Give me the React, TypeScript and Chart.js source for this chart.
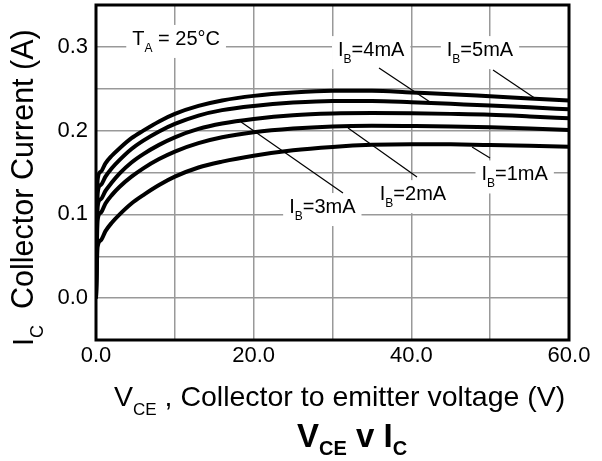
import React, { useEffect, useRef } from 'react';
import { Chart, registerables } from 'chart.js';

Chart.register(...registerables);

const FONT = '"Liberation Sans", Arial, Helvetica, sans-serif';

// Collector-emitter voltage (V)
const vce = [0, 0.2, 0.6, 1.2, 2, 3, 4.5, 6, 8, 10, 13, 16, 20, 25, 30, 35, 40, 45, 50, 55, 60];
// Collector current (A) per base current
const ib1mA = [0, 0.061, 0.069, 0.080, 0.090, 0.100, 0.113, 0.123, 0.135, 0.145, 0.156, 0.163, 0.170, 0.1765, 0.1805, 0.183, 0.1838, 0.1836, 0.1828, 0.1818, 0.1808];
const ib2mA = [0, 0.093, 0.102, 0.113, 0.123, 0.133, 0.145, 0.155, 0.166, 0.175, 0.185, 0.192, 0.198, 0.2025, 0.205, 0.2058, 0.2055, 0.205, 0.204, 0.2025, 0.2007];
const ib3mA = [0, 0.109, 0.118, 0.128, 0.138, 0.149, 0.162, 0.172, 0.183, 0.192, 0.202, 0.2085, 0.214, 0.2185, 0.2205, 0.221, 0.2207, 0.22, 0.219, 0.217, 0.2147];
const ib4mA = [0, 0.125, 0.135, 0.145, 0.155, 0.165, 0.178, 0.188, 0.199, 0.208, 0.218, 0.2245, 0.2295, 0.2335, 0.2355, 0.2355, 0.234, 0.232, 0.23, 0.2278, 0.2254];
const ib5mA = [0, 0.141, 0.151, 0.161, 0.170, 0.179, 0.191, 0.200, 0.211, 0.220, 0.2295, 0.236, 0.2415, 0.2455, 0.2475, 0.2475, 0.2455, 0.2435, 0.241, 0.2385, 0.236];
const seriesNames = ['IB=1mA', 'IB=2mA', 'IB=3mA', 'IB=4mA', 'IB=5mA'];
const seriesValues = [ib1mA, ib2mA, ib3mA, ib4mA, ib5mA];

// Tick labels shown
const xTickLabels = [0, 20, 40, 60];
const yTickLabels = [0, 0.1, 0.2, 0.3];

// Annotations (text parts, anchor in data units)
const labelMain = ['T', 'I', 'I', 'I', 'I', 'I'];
const labelSub = ['A', 'B', 'B', 'B', 'B', 'B'];
const labelRest = [' = 25°C', '=4mA', '=5mA', '=3mA', '=2mA', '=1mA'];
const labelAt = [
  [4.6, 0.3023],
  [30.7, 0.289],
  [44.5, 0.289],
  [24.5, 0.1016],
  [36.0, 0.117],
  [48.9, 0.1405],
];
const leaderFrom = [null, [35.9, 0.2748], [50.36, 0.2724], [18.4, 0.2103], [31.97, 0.2031], [47.7, 0.1804]];
const leaderTo = [null, [42.37, 0.2342], [55.82, 0.2378], [31.33, 0.1254], [40.72, 0.1446], [49.98, 0.1673]];

type Part = { t: string; size: number; bold?: boolean; dy?: number; gap?: number };

function drawParts(ctx: CanvasRenderingContext2D, x: number, y: number, parts: Part[], measureOnly = false) {
  let cx = x;
  for (const p of parts) {
    cx += p.gap || 0;
    ctx.font = `${p.bold ? 'bold ' : ''}${p.size}px ${FONT}`;
    if (!measureOnly) ctx.fillText(p.t, cx, y + (p.dy || 0));
    cx += ctx.measureText(p.t).width;
  }
  return cx - x;
}

const overlayPlugin = {
  id: 'overlay',
  beforeDatasetsDraw(chart: any) {
    const ctx: CanvasRenderingContext2D = chart.ctx;
    const xs = chart.scales.x;
    const ys = chart.scales.y;
    ctx.save();
    ctx.textBaseline = 'alphabetic';
    ctx.textAlign = 'left';
    for (let i = 0; i < labelMain.length; i++) {
      const px = xs.getPixelForValue(labelAt[i][0]);
      const py = ys.getPixelForValue(labelAt[i][1]);
      const parts: Part[] = [
        { t: labelMain[i], size: 20 },
        { t: labelSub[i], size: 12, dy: 7 },
        { t: labelRest[i], size: 20 },
      ];
      const w = drawParts(ctx, px, py, parts, true);
      ctx.fillStyle = '#fff';
      ctx.fillRect(px - 6, py - 20, w + 12, 33);
      ctx.fillStyle = '#000';
      drawParts(ctx, px, py, parts);
      const f = leaderFrom[i];
      const t = leaderTo[i];
      if (f && t) {
        ctx.strokeStyle = '#000';
        ctx.lineWidth = 1.2;
        ctx.beginPath();
        ctx.moveTo(xs.getPixelForValue(f[0]), ys.getPixelForValue(f[1]));
        ctx.lineTo(xs.getPixelForValue(t[0]), ys.getPixelForValue(t[1]));
        ctx.stroke();
      }
    }
    ctx.restore();
  },
  afterDatasetsDraw(chart: any) {
    const ctx: CanvasRenderingContext2D = chart.ctx;
    const a = chart.chartArea;
    ctx.save();
    ctx.strokeStyle = '#000';
    ctx.lineWidth = 3;
    ctx.strokeRect(a.left, a.top, a.right - a.left, a.bottom - a.top);
    ctx.restore();
  },
  afterDraw(chart: any) {
    const ctx: CanvasRenderingContext2D = chart.ctx;
    ctx.save();
    ctx.fillStyle = '#000';
    ctx.textAlign = 'left';
    ctx.textBaseline = 'alphabetic';
    // X axis title
    drawParts(ctx, 114, 406, [
      { t: 'V', size: 28.5 },
      { t: 'CE', size: 17, dy: 9 },
      { t: ' , Collector to emitter voltage (V)', size: 28.5 },
    ]);
    // Main title
    drawParts(ctx, 297, 447, [
      { t: 'V', size: 33, bold: true },
      { t: 'CE', size: 20, bold: true, dy: 8 },
      { t: ' v I', size: 33, bold: true },
      { t: 'C', size: 20, bold: true, dy: 8 },
    ]);
    // Y axis title (rotated)
    ctx.translate(33, 346);
    ctx.rotate(-Math.PI / 2);
    drawParts(ctx, 0, 0, [
      { t: 'I', size: 29 },
      { t: 'C', size: 18, dy: 10 },
      { t: 'Collector Current (A)', size: 30.5, gap: 16 },
    ]);
    ctx.restore();
  },
};

export default function App() {
  const canvasRef = useRef<HTMLCanvasElement | null>(null);

  useEffect(() => {
    const canvas = canvasRef.current;
    if (!canvas) return;
    const gridColor = '#999999';
    const chart = new Chart(canvas, {
      type: 'line',
      data: {
        datasets: seriesValues.map((vals, i) => ({
          label: seriesNames[i],
          data: vce.map((v, j) => ({ x: v, y: vals[j] })),
          borderColor: '#000',
          borderWidth: 4,
          pointRadius: 0,
          fill: false,
          cubicInterpolationMode: 'monotone' as const,
        })),
      },
      options: {
        animation: false,
        responsive: false,
        events: [],
        layout: { padding: { top: 5, right: 33, left: 0, bottom: 0 } },
        plugins: {
          legend: { display: false },
          tooltip: { enabled: false },
          title: { display: false },
        },
        scales: {
          x: {
            type: 'linear',
            min: 0,
            max: 60,
            border: { display: false },
            grid: { color: gridColor, lineWidth: 1.5, drawTicks: false },
            ticks: {
              stepSize: 10,
              autoSkip: false,
              maxRotation: 0,
              padding: 3,
              color: '#000',
              font: { family: FONT, size: 22 },
              callback: (v: any) => (xTickLabels.includes(Number(v)) ? Number(v).toFixed(1) : ''),
            },
            afterFit: (s: any) => {
              s.height = 121;
              s.paddingLeft = 0;
              s.paddingRight = 0;
            },
          },
          y: {
            type: 'linear',
            min: -0.05,
            max: 0.35,
            border: { display: false },
            grid: { color: gridColor, lineWidth: 1.5, drawTicks: false },
            ticks: {
              stepSize: 0.05,
              autoSkip: false,
              padding: 8,
              color: '#000',
              font: { family: FONT, size: 22 },
              callback: (v: any) => {
                const n = Math.round(Number(v) * 100) / 100;
                return yTickLabels.some((t) => Math.abs(t - n) < 1e-6) ? n.toFixed(1) : '';
              },
            },
            afterFit: (s: any) => {
              s.width = 96;
              s.paddingTop = 0;
              s.paddingBottom = 0;
            },
          },
        },
      },
      plugins: [overlayPlugin],
    });
    return () => chart.destroy();
  }, []);

  return (
    <div style={{ position: 'fixed', left: 0, top: 0, width: 602, height: 461, background: '#fff' }}>
      <canvas ref={canvasRef} width={602} height={461} style={{ display: 'block' }} />
    </div>
  );
}
